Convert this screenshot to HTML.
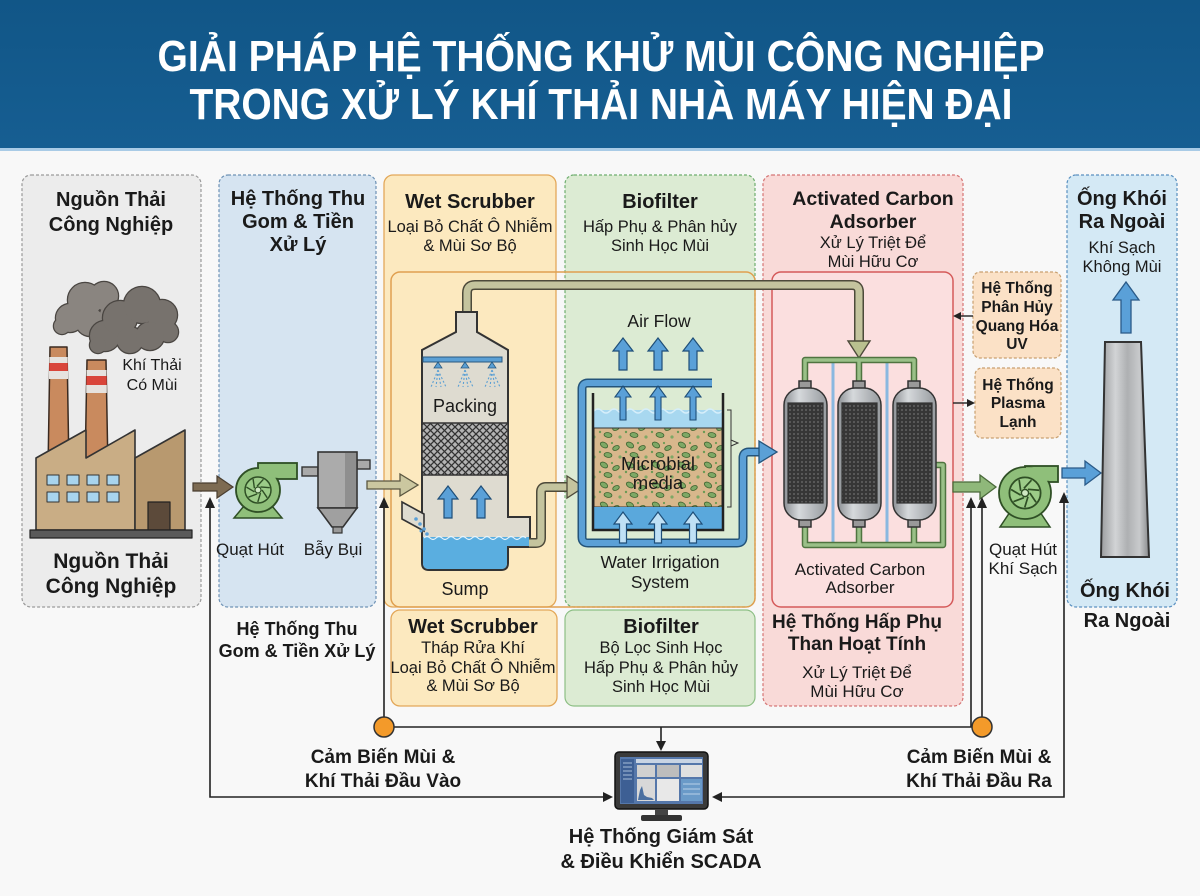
<!DOCTYPE html>
<html><head><meta charset="utf-8"><style>
html,body{margin:0;padding:0;background:#f8f8f8;}
svg{display:block;}
text{font-family:"Liberation Sans","DejaVu Sans",sans-serif;fill:#1a1a1a;text-anchor:middle;}
.b{font-weight:bold;}
</style></head><body>
<svg width="1200" height="896" viewBox="0 0 1200 896" xmlns="http://www.w3.org/2000/svg">
<defs>
<pattern id="mesh" width="7" height="7" patternUnits="userSpaceOnUse"><rect width="7" height="7" fill="#b4b4b4"/><path d="M0 0L7 7M7 0L0 7" stroke="#333" stroke-width="1.3"/></pattern>
<pattern id="carb" width="4" height="4" patternUnits="userSpaceOnUse"><rect width="4" height="4" fill="#363636"/><circle cx="2" cy="2" r="1.1" fill="#5c5c5c"/></pattern>
<pattern id="media" width="26" height="20" patternUnits="userSpaceOnUse"><rect width="26" height="20" fill="#d8b78c"/>
<ellipse cx="6" cy="5" rx="4" ry="2.5" fill="#7ea865" stroke="#3e6430" stroke-width="0.8" transform="rotate(30 6 5)"/>
<ellipse cx="18" cy="8" rx="3.5" ry="2.2" fill="#7ea865" stroke="#3e6430" stroke-width="0.8" transform="rotate(-25 18 8)"/>
<ellipse cx="10" cy="15" rx="4" ry="2.4" fill="#7ea865" stroke="#3e6430" stroke-width="0.8" transform="rotate(10 10 15)"/>
<circle cx="22" cy="17" r="1.6" fill="#7ea865"/><circle cx="14" cy="3" r="1.1" fill="#6b9a55"/><circle cx="2" cy="12" r="1.2" fill="#6b9a55"/></pattern>
<linearGradient id="tank" x1="0" x2="1" y1="0" y2="0"><stop offset="0" stop-color="#8c9094"/><stop offset="0.35" stop-color="#d6d9dc"/><stop offset="1" stop-color="#969a9e"/></linearGradient>
<linearGradient id="stack" x1="0" x2="1" y1="0" y2="0"><stop offset="0" stop-color="#9a9c9e"/><stop offset="0.3" stop-color="#d2d4d6"/><stop offset="0.55" stop-color="#aeb0b2"/><stop offset="0.8" stop-color="#c8cacc"/><stop offset="1" stop-color="#8a8c8e"/></linearGradient>
<linearGradient id="hdr" x1="0" x2="0" y1="0" y2="1"><stop offset="0" stop-color="#115687"/><stop offset="1" stop-color="#165e92"/></linearGradient>
<g id="imp">
<circle r="13" fill="#9ccc88" stroke="#2f4f25" stroke-width="1.5"/>
<path d="M4 0L9.2 7.7M2.5 3.1L-0.2 12M-0.9 3.9L-9.6 7.2M-3.6 1.8L-11.6 -2.9M-3.6 -1.8L-4.9 -11M-0.9 -3.9L5.4 -10.7M2.5 -3.1L11.8 -2.3" stroke="#2f4f25" stroke-width="1.4" fill="none"/>
<circle r="3" fill="#cfe8c2" stroke="#2f4f25" stroke-width="1.2"/>
</g>
</defs>

<rect width="1200" height="896" fill="#f8f8f8"/>
<!-- header -->
<rect x="0" y="0" width="1200" height="148" fill="url(#hdr)"/>
<rect x="0" y="148" width="1200" height="3" fill="#a9cbe6"/>
<text x="601" y="71" class="b" font-size="44" textLength="887" lengthAdjust="spacingAndGlyphs" style="fill:#fff">GIẢI PHÁP HỆ THỐNG KHỬ MÙI CÔNG NGHIỆP</text>
<text x="601" y="119" class="b" font-size="44" textLength="823" lengthAdjust="spacingAndGlyphs" style="fill:#fff">TRONG XỬ LÝ KHÍ THẢI NHÀ MÁY HIỆN ĐẠI</text>

<!-- panels -->
<rect x="22" y="175" width="179" height="432" rx="9" fill="#ececec" stroke="#9a9a9a" stroke-width="1.2" stroke-dasharray="3,2"/>
<rect x="219" y="175" width="157" height="432" rx="9" fill="#d6e4f1" stroke="#6e92b5" stroke-width="1.2" stroke-dasharray="3,2"/>
<rect x="384" y="175" width="172" height="432" rx="9" fill="#fce9bf" stroke="#e3a85a" stroke-width="1.3"/>
<rect x="391" y="610" width="166" height="96" rx="9" fill="#fce9bf" stroke="#e3a85a" stroke-width="1.3"/>
<rect x="565" y="175" width="190" height="432" rx="9" fill="#dcebd3" stroke="#6fae6f" stroke-width="1.2" stroke-dasharray="3,2"/>
<rect x="565" y="610" width="190" height="96" rx="9" fill="#dcebd3" stroke="#8dbf85" stroke-width="1.2"/>
<rect x="391" y="272" width="364" height="335" rx="9" fill="none" stroke="#e0a050" stroke-width="1.5"/>
<rect x="763" y="175" width="200" height="531" rx="9" fill="#f9dad8" stroke="#d57575" stroke-width="1.2" stroke-dasharray="3,2"/>
<rect x="772" y="272" width="181" height="335" rx="9" fill="#fbdfdf" stroke="#d55a5a" stroke-width="1.5"/>
<rect x="1067" y="175" width="110" height="432" rx="9" fill="#d4e9f5" stroke="#5a90c0" stroke-width="1.2" stroke-dasharray="3,2"/>
<rect x="973" y="272" width="88" height="86" rx="7" fill="#fbe1c6" stroke="#c9a070" stroke-width="1.2" stroke-dasharray="3,2"/>
<rect x="975" y="368" width="86" height="70" rx="7" fill="#fbe1c6" stroke="#c9a070" stroke-width="1.2" stroke-dasharray="3,2"/>

<!-- panel titles -->
<text x="111" y="206" class="b" font-size="20">Nguồn Thải</text>
<text x="111" y="231" class="b" font-size="20">Công Nghiệp</text>
<text x="152" y="370" font-size="16">Khí Thải</text>
<text x="152" y="390" font-size="16">Có Mùi</text>
<text x="111" y="568" class="b" font-size="21">Nguồn Thải</text>
<text x="111" y="593" class="b" font-size="21">Công Nghiệp</text>

<text x="298" y="205" class="b" font-size="20">Hệ Thống Thu</text>
<text x="298" y="228" class="b" font-size="20">Gom &amp; Tiền</text>
<text x="298" y="251" class="b" font-size="20">Xử Lý</text>
<text x="250" y="555" font-size="17">Quạt Hút</text>
<text x="333" y="555" font-size="17">Bẫy Bụi</text>
<text x="297" y="635" class="b" font-size="18">Hệ Thống Thu</text>
<text x="297" y="657" class="b" font-size="18">Gom &amp; Tiền Xử Lý</text>

<text x="470" y="208" class="b" font-size="20">Wet Scrubber</text>
<text x="470" y="232" font-size="16.5">Loại Bỏ Chất Ô Nhiễm</text>
<text x="470" y="251" font-size="16.5">&amp; Mùi Sơ Bộ</text>
<text x="473" y="633" class="b" font-size="20">Wet Scrubber</text>
<text x="473" y="653" font-size="16.5">Tháp Rửa Khí</text>
<text x="473" y="673" font-size="16.5">Loại Bỏ Chất Ô Nhiễm</text>
<text x="473" y="691" font-size="16.5">&amp; Mùi Sơ Bộ</text>

<text x="660" y="208" class="b" font-size="20">Biofilter</text>
<text x="660" y="232" font-size="16.5">Hấp Phụ &amp; Phân hủy</text>
<text x="660" y="251" font-size="16.5">Sinh Học Mùi</text>
<text x="661" y="633" class="b" font-size="20">Biofilter</text>
<text x="661" y="653" font-size="16.5">Bộ Lọc Sinh Học</text>
<text x="661" y="673" font-size="16.5">Hấp Phụ &amp; Phân hủy</text>
<text x="661" y="692" font-size="16.5">Sinh Học Mùi</text>

<text x="873" y="205" class="b" font-size="19.5">Activated Carbon</text>
<text x="873" y="228" class="b" font-size="19.5">Adsorber</text>
<text x="873" y="248" font-size="16.5">Xử Lý Triệt Để</text>
<text x="873" y="267" font-size="16.5">Mùi Hữu Cơ</text>
<text x="857" y="628" class="b" font-size="19">Hệ Thống Hấp Phụ</text>
<text x="857" y="650" class="b" font-size="19">Than Hoạt Tính</text>
<text x="857" y="678" font-size="17">Xử Lý Triệt Để</text>
<text x="857" y="697" font-size="17">Mùi Hữu Cơ</text>

<text x="1017" y="293" class="b" font-size="15.5">Hệ Thống</text>
<text x="1017" y="312" class="b" font-size="15.5">Phân Hủy</text>
<text x="1017" y="331" class="b" font-size="15.5">Quang Hóa</text>
<text x="1017" y="349" class="b" font-size="15.5">UV</text>
<text x="1018" y="390" class="b" font-size="15.5">Hệ Thống</text>
<text x="1018" y="408" class="b" font-size="15.5">Plasma</text>
<text x="1018" y="427" class="b" font-size="15.5">Lạnh</text>

<text x="1122" y="205" class="b" font-size="20">Ống Khói</text>
<text x="1122" y="228" class="b" font-size="20">Ra Ngoài</text>
<text x="1122" y="253" font-size="16.5">Khí Sạch</text>
<text x="1122" y="272" font-size="16.5">Không Mùi</text>
<text x="1125" y="597" class="b" font-size="20">Ống Khói</text>
<text x="1127" y="627" class="b" font-size="20">Ra Ngoài</text>
<text x="1023" y="555" font-size="17">Quạt Hút</text>
<text x="1023" y="574" font-size="17">Khí Sạch</text>

<!-- factory -->
<g stroke-linejoin="round">
<g fill="#7b7772" stroke="#4a4642" stroke-width="2.5">
<circle cx="70" cy="318" r="14"/><circle cx="85" cy="300" r="17"/><circle cx="104" cy="296" r="14"/><circle cx="112" cy="315" r="12"/><circle cx="90" cy="322" r="14"/><circle cx="62" cy="326" r="8"/>
</g>
<g fill="#8a8580">
<circle cx="70" cy="318" r="14"/><circle cx="85" cy="300" r="17"/><circle cx="104" cy="296" r="14"/><circle cx="112" cy="315" r="12"/><circle cx="90" cy="322" r="14"/><circle cx="62" cy="326" r="8"/>
</g>
<g fill="#6f6a65" stroke="#4a4642" stroke-width="2.5">
<circle cx="105" cy="336" r="15"/><circle cx="120" cy="318" r="17"/><circle cx="142" cy="305" r="18"/><circle cx="162" cy="315" r="15"/><circle cx="168" cy="332" r="10"/><circle cx="130" cy="340" r="13"/><circle cx="150" cy="336" r="14"/><circle cx="98" cy="345" r="8"/>
</g>
<g fill="#77726d">
<circle cx="105" cy="336" r="15"/><circle cx="120" cy="318" r="17"/><circle cx="142" cy="305" r="18"/><circle cx="162" cy="315" r="15"/><circle cx="168" cy="332" r="10"/><circle cx="130" cy="340" r="13"/><circle cx="150" cy="336" r="14"/><circle cx="98" cy="345" r="8"/>
</g>
<polygon points="50,347 67,347 69,470 48,470" fill="#c98a5e" stroke="#3a2a20" stroke-width="1.5"/>
<rect x="49.3" y="357" width="18.4" height="6" fill="#e6e2de"/><rect x="49.2" y="363" width="18.6" height="8" fill="#d9453a"/><rect x="49" y="371" width="19" height="8" fill="#e6e2de"/>
<polygon points="87,360 106,360 108,470 85,470" fill="#c98a5e" stroke="#3a2a20" stroke-width="1.5"/>
<rect x="86.5" y="370" width="20" height="6" fill="#e6e2de"/><rect x="86.4" y="376" width="20.3" height="9" fill="#d9453a"/><rect x="86.2" y="385" width="20.6" height="8" fill="#e6e2de"/>
<path d="M36 530 V458 L86 430 V458 L135 430 V530 Z" fill="#c9ad85" stroke="#333" stroke-width="1.6"/>
<path d="M135 530 V458 L185 430 V530 Z" fill="#b8996f" stroke="#333" stroke-width="1.6"/>
<g fill="#a8d4ee" stroke="#333" stroke-width="1">
<rect x="47" y="475" width="12" height="10"/><rect x="67" y="475" width="12" height="10"/><rect x="87" y="475" width="12" height="10"/><rect x="107" y="475" width="12" height="10"/>
<rect x="47" y="492" width="12" height="10"/><rect x="67" y="492" width="12" height="10"/><rect x="87" y="492" width="12" height="10"/><rect x="107" y="492" width="12" height="10"/>
</g>
<rect x="148" y="502" width="22" height="28" fill="#5c4a3a" stroke="#222" stroke-width="1.2"/>
<rect x="30" y="530" width="162" height="8" fill="#5a5a5a" stroke="#222" stroke-width="1.2"/>
</g>

<!-- brown arrow -->
<polygon points="193,483 217,483 217,476 233,487 217,498 217,491 193,491" fill="#7d6b52" stroke="#4a3e30" stroke-width="1.2"/>

<!-- small fan -->
<polygon points="244,506 272,506 282,518 234,518" fill="#8fbf7a" stroke="#2f4f25" stroke-width="1.5"/>
<rect x="258" y="463" width="39" height="16" fill="#8fbf7a" stroke="#2f4f25" stroke-width="1.8"/>
<circle cx="258" cy="490" r="22" fill="#8fbf7a" stroke="#2f4f25" stroke-width="1.8"/>
<rect x="259" y="464.2" width="37" height="13.6" fill="#8fbf7a"/>
<use href="#imp" transform="translate(258 490)"/>

<!-- dust trap -->
<rect x="302" y="467" width="16" height="9" fill="#a9a9a9" stroke="#333" stroke-width="1.4"/>
<rect x="357" y="460" width="13" height="9" fill="#a9a9a9" stroke="#333" stroke-width="1.4"/>
<rect x="318" y="452" width="39" height="56" fill="#ababab" stroke="#333" stroke-width="1.6"/>
<rect x="345" y="453" width="11" height="54" fill="#8f8f8f"/>
<polygon points="318,508 357,508 343,527 332,527" fill="#a0a0a0" stroke="#333" stroke-width="1.6"/>
<rect x="333" y="527" width="9" height="6" fill="#999" stroke="#333" stroke-width="1.2"/>

<!-- khaki arrow -->
<polygon points="367,481 400,481 400,474 418,485 400,496 400,489 367,489" fill="#cbc7a0" stroke="#5a5640" stroke-width="1.3"/>

<!-- top pipe -->
<path d="M467 313 V293 Q467 285 475 285 H852 Q859 285 859 292 V342" fill="none" stroke="#4d4a3a" stroke-width="10"/>
<path d="M467 313 V293 Q467 285 475 285 H852 Q859 285 859 292 V342" fill="none" stroke="#c4c49e" stroke-width="7"/>
<polygon points="848,341 870,341 859,358" fill="#b9c08f" stroke="#4d4a3a" stroke-width="1.4"/>

<!-- scrubber -->
<path d="M456 312 H477 V332 L508 350 V517 H530 V547 H508 V563 Q508 570 501 570 H429 Q422 570 422 563 V350 L456 332 Z" fill="#dedbd0" stroke="#333" stroke-width="2"/>
<path d="M423 537 H529 V546 H507 V563 Q507 569 501 569 H429 Q423 569 423 563 Z" fill="#5aaee0"/>
<path d="M424 538 q3 -3 6 0 t6 0 t6 0 t6 0 t6 0 t6 0 t6 0 t6 0 t6 0 t6 0 t6 0 t6 0 t6 0 t6 0 t6 0 t6 0 t6 0" fill="none" stroke="#e8f4fb" stroke-width="1.2"/>
<rect x="422" y="423" width="86" height="52" fill="url(#mesh)" stroke="#333" stroke-width="1.5"/>
<rect x="423" y="357" width="79" height="5" fill="#5a9fd4" stroke="#2a5a80" stroke-width="1"/>
<g fill="#5a9fd4" stroke="#2a5a80" stroke-width="0.8">
<polygon points="434,368 442,368 438,362"/><polygon points="461,368 469,368 465,362"/><polygon points="488,368 496,368 492,362"/>
</g>
<path d="M438 370L431 387M438 370L436 387M438 370L441 387M438 370L446 387M465 370L458 387M465 370L463 387M465 370L468 387M465 370L473 387M492 370L485 387M492 370L490 387M492 370L495 387M492 370L500 387" stroke="#5a9fd4" stroke-width="1.1" stroke-dasharray="2,2"/>
<text x="465" y="412" font-size="18">Packing</text>
<polygon points="444,518 444,499 438,499 448,486 458,499 452,499 452,518" fill="#5aa0d8" stroke="#1e4e78" stroke-width="1.2"/>
<polygon points="477,518 477,499 471,499 481,486 491,499 485,499 485,518" fill="#5aa0d8" stroke="#1e4e78" stroke-width="1.2"/>
<polygon points="402,502 424,514 424,531 402,519" fill="#dedbd0" stroke="#333" stroke-width="1.6"/>
<g fill="#5aa0d8"><circle cx="416" cy="519" r="1.8"/><circle cx="420" cy="524" r="1.8"/><circle cx="424" cy="529" r="1.8"/><circle cx="427" cy="534" r="1.8"/><circle cx="421" cy="531" r="1.5"/></g>
<text x="465" y="595" font-size="18">Sump</text>

<!-- scrubber->biofilter pipe -->
<path d="M529 543 H536 Q541 543 541 538 V492 Q541 487 546 487 H568" fill="none" stroke="#4d4a3a" stroke-width="10"/>
<path d="M529 543 H536 Q541 543 541 538 V492 Q541 487 546 487 H568" fill="none" stroke="#c4c49e" stroke-width="7"/>
<polygon points="567,476 584,487 567,498" fill="#c4c49e" stroke="#4d4a3a" stroke-width="1.3"/>

<!-- biofilter -->
<text x="659" y="327" font-size="17.5">Air Flow</text>
<g fill="#5aa0d8" stroke="#1e4e78" stroke-width="1.2">
<polygon points="619,370 619,351 613,351 623,338 633,351 627,351 627,370"/>
<polygon points="654,370 654,351 648,351 658,338 668,351 662,351 662,370"/>
<polygon points="689,370 689,351 683,351 693,338 703,351 697,351 697,370"/>
</g>
<path d="M712 383 H588 Q582 383 582 389 V537 Q582 543 588 543 H737 Q743 543 743 537 V458 Q743 452 749 452 H760" fill="none" stroke="#24547a" stroke-width="9"/>
<path d="M712 383 H588 Q582 383 582 389 V537 Q582 543 588 543 H737 Q743 543 743 537 V458 Q743 452 749 452 H760" fill="none" stroke="#5ba0d6" stroke-width="6"/>
<polygon points="759,441 777,452 759,463" fill="#5ba0d6" stroke="#24547a" stroke-width="1.3"/>
<rect x="594" y="410" width="128" height="18" fill="#a8d8f0"/>
<path d="M594 411 q4 -4 8 0 t8 0 t8 0 t8 0 t8 0 t8 0 t8 0 t8 0 t8 0 t8 0 t8 0 t8 0 t8 0 t8 0 t8 0 t8 0" fill="none" stroke="#d6eefa" stroke-width="1.5"/>
<rect x="594" y="428" width="128" height="79" fill="url(#media)" stroke="#333" stroke-width="1"/>
<rect x="594" y="507" width="128" height="22" fill="#5aa8dc"/>
<path d="M593 393 V530 H723 V393" fill="none" stroke="#222" stroke-width="2.5"/>
<path d="M727 410 H731 V507 H727 M731 440 L738 443 L731 446" fill="none" stroke="#333" stroke-width="1"/>
<g fill="#5aa0d8" stroke="#1e4e78" stroke-width="1.1">
<polygon points="620,420 620,397 615,397 623,386 631,397 626,397 626,420"/>
<polygon points="655,420 655,397 650,397 658,386 666,397 661,397 661,420"/>
<polygon points="690,420 690,397 685,397 693,386 701,397 696,397 696,420"/>
</g>
<text x="658" y="470" font-size="18.5">Microbial</text>
<text x="658" y="489" font-size="18.5">media</text>
<g fill="#bfe0f5" stroke="#1e4e78" stroke-width="1.2">
<polygon points="619.5,543 619.5,524 614,524 623,512 632,524 626.5,524 626.5,543"/>
<polygon points="654.5,543 654.5,524 649,524 658,512 667,524 661.5,524 661.5,543"/>
<polygon points="689.5,543 689.5,524 684,524 693,512 702,524 696.5,524 696.5,543"/>
</g>
<text x="660" y="568" font-size="17.5">Water Irrigation</text>
<text x="660" y="588" font-size="17.5">System</text>

<!-- carbon adsorber -->
<line x1="833" y1="360" x2="833" y2="545" stroke="#8ab8e0" stroke-width="3"/>
<line x1="887" y1="360" x2="887" y2="545" stroke="#8ab8e0" stroke-width="3"/>
<path d="M805 384 V360 H914 V384 M859 360 V384 M805 526 V545 H943 V465 H935 M859 526 V545 M914 526 V545" fill="none" stroke="#4f7440" stroke-width="6.5" stroke-linejoin="round"/>
<path d="M805 384 V360 H914 V384 M859 360 V384 M805 526 V545 H943 V465 H935 M859 526 V545 M914 526 V545" fill="none" stroke="#9ac088" stroke-width="3.5" stroke-linejoin="round"/>
<g stroke="#333" stroke-width="1.5">
<rect x="799" y="381" width="12" height="8" fill="#999"/><rect x="853" y="381" width="12" height="8" fill="#999"/><rect x="908" y="381" width="12" height="8" fill="#999"/>
<rect x="799" y="519" width="12" height="8" fill="#999"/><rect x="853" y="519" width="12" height="8" fill="#999"/><rect x="908" y="519" width="12" height="8" fill="#999"/>
<rect x="784" y="388" width="43" height="132" rx="17" fill="url(#tank)"/>
<rect x="838" y="388" width="43" height="132" rx="17" fill="url(#tank)"/>
<rect x="893" y="388" width="43" height="132" rx="17" fill="url(#tank)"/>
<rect x="788" y="403" width="35" height="100" fill="url(#carb)" stroke-width="1.2"/>
<rect x="842" y="403" width="35" height="100" fill="url(#carb)" stroke-width="1.2"/>
<rect x="897" y="403" width="35" height="100" fill="url(#carb)" stroke-width="1.2"/>
</g>
<text x="860" y="575" font-size="17">Activated Carbon</text>
<text x="860" y="593" font-size="17">Adsorber</text>
<polygon points="953,482 980,482 980,475 996,487 980,499 980,492 953,492" fill="#8fb87a" stroke="#4a6a3a" stroke-width="1.3"/>

<!-- UV / plasma arrows -->
<line x1="973" y1="316" x2="959" y2="316" stroke="#222" stroke-width="1.4"/>
<polygon points="961,312 953,316 961,320" fill="#222"/>
<line x1="953" y1="403" x2="968" y2="403" stroke="#222" stroke-width="1.4"/>
<polygon points="967,399 975,403 967,407" fill="#222"/>

<!-- clean fan -->
<polygon points="1010,512 1040,512 1050,527 1000,527" fill="#8fbf7a" stroke="#2f4f25" stroke-width="1.5"/>
<rect x="1025" y="466" width="33" height="16" fill="#8fbf7a" stroke="#2f4f25" stroke-width="1.8"/>
<circle cx="1025" cy="493" r="26" fill="#8fbf7a" stroke="#2f4f25" stroke-width="1.8"/>
<rect x="1026" y="467.2" width="31" height="13.6" fill="#8fbf7a"/>
<use href="#imp" transform="translate(1025 493) scale(1.2)"/>
<polygon points="1062,468 1085,468 1085,461 1101,473 1085,485 1085,478 1062,478" fill="#5aa0d8" stroke="#2a5a88" stroke-width="1.3"/>

<!-- stack -->
<polygon points="1105,342 1141,342 1149,557 1101,557" fill="url(#stack)" stroke="#333" stroke-width="2"/>
<polygon points="1121,333 1121,300 1113,300 1126,282 1139,300 1131,300 1131,333" fill="#5aa0d8" stroke="#2a5a88" stroke-width="1.3"/>

<!-- control lines -->
<g fill="none" stroke="#222" stroke-width="1.6">
<path d="M210 505 V797 H605"/>
<path d="M384 505 V717"/>
<path d="M394 727 H971 V505"/>
<path d="M661 727 V744"/>
<path d="M982 505 V717"/>
<path d="M1064 500 V797 H719"/>
</g>
<g fill="#222">
<polygon points="205,508 210,497 215,508"/>
<polygon points="379,508 384,497 389,508"/>
<polygon points="966,508 971,497 976,508"/>
<polygon points="977,508 982,497 987,508"/>
<polygon points="1059,503 1064,492 1069,503"/>
<polygon points="603,792 613,797 603,802"/>
<polygon points="722,792 712,797 722,802"/>
<polygon points="656,741 661,751 666,741"/>
</g>
<circle cx="384" cy="727" r="10" fill="#f39a2a" stroke="#333" stroke-width="1.5"/>
<circle cx="982" cy="727" r="10" fill="#f39a2a" stroke="#333" stroke-width="1.5"/>

<!-- monitor -->
<rect x="615" y="752" width="93" height="57" rx="4" fill="#3a3a3a" stroke="#111" stroke-width="1.5"/>
<rect x="620" y="757" width="83" height="47" fill="#5577aa"/>
<rect x="621" y="759" width="13" height="44" fill="#3d5f94"/>
<path d="M623 763H632M623 767H632M623 771H632M623 775H632M623 779H632" stroke="#a8bcd8" stroke-width="1"/>
<rect x="636" y="759" width="66" height="4" fill="#c8d4e4"/>
<rect x="637" y="765" width="18" height="12" fill="#d0d0d0"/>
<rect x="657" y="765" width="22" height="12" fill="#bdbdbd"/>
<rect x="681" y="765" width="21" height="12" fill="#e0e0e0"/>
<rect x="637" y="779" width="18" height="22" fill="#d8d8d8"/>
<path d="M638 800 L640 790 L642 786 L644 795 L647 797 L652 798 L654 800 Z" fill="#4a6fa0"/>
<rect x="657" y="779" width="22" height="22" fill="#e8e8e8"/>
<rect x="681" y="779" width="21" height="22" fill="#6a9ac8"/>
<path d="M683 784H700M683 789H700M683 794H700" stroke="#b8d0e8" stroke-width="1"/>
<rect x="655" y="809" width="13" height="7" fill="#444"/>
<rect x="641" y="815" width="41" height="6" rx="2" fill="#333"/>

<!-- bottom labels -->
<text x="383" y="763" class="b" font-size="19">Cảm Biến Mùi &amp;</text>
<text x="383" y="787" class="b" font-size="19">Khí Thải Đầu Vào</text>
<text x="979" y="763" class="b" font-size="19">Cảm Biến Mùi &amp;</text>
<text x="979" y="787" class="b" font-size="19">Khí Thải Đầu Ra</text>
<text x="661" y="843" class="b" font-size="20">Hệ Thống Giám Sát</text>
<text x="661" y="868" class="b" font-size="20">&amp; Điều Khiển SCADA</text>
</svg>
</body></html>
